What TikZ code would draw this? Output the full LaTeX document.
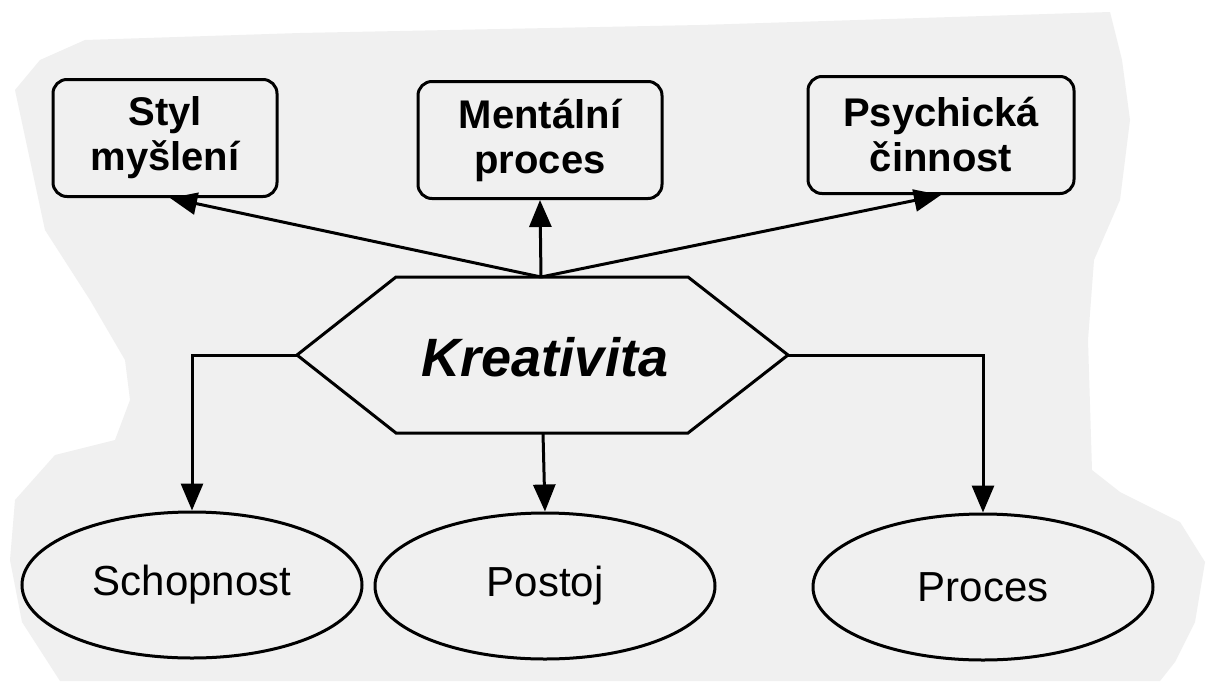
\documentclass[tikz,border=0pt]{standalone}
\usepackage{fontspec}
\setmainfont{Liberation Sans}
\usetikzlibrary{arrows.meta,shapes.geometric,calc}
\definecolor{paper}{HTML}{F0F0F0}
\begin{document}
\begin{tikzpicture}[x=1pt,y=-1pt,
  boxnode/.style={draw, line width=3pt, rounded corners=14pt, align=center,
    minimum height=117pt, inner sep=0pt,
    font=\fontsize{40}{45}\selectfont\bfseries},
  ellnode/.style={draw, ellipse, line width=3pt, minimum width=340pt,
    minimum height=146pt, inner sep=0pt, font=\fontsize{42}{48}\selectfont},
  hexline/.style={draw, line width=3pt, line join=miter},
  conn/.style={line width=3pt, -{Triangle[length=27pt,width=22pt]}}]
\useasboundingbox[fill=white] (0,0) rectangle (1211,681);
% scanned paper
\fill[paper] (85,40) -- (300,33) -- (700,25) -- (1110,12) -- (1122,60) -- (1130,120)
  -- (1120,200) -- (1094,260) -- (1088,340) -- (1092,470) -- (1120,492) -- (1180,522)
  -- (1205,562) -- (1195,622) -- (1175,662) -- (1160,681) -- (60,681) -- (22,622)
  -- (10,560) -- (15,500) -- (55,455) -- (115,440) -- (130,400) -- (125,360)
  -- (90,300) -- (45,230) -- (15,90) -- (40,60) -- cycle;
% top boxes
\node[boxnode, minimum width=224pt] (styl) at (165,138) {Styl\\myšlení};
\node[boxnode, minimum width=244pt] (ment) at (540,140) {Mentální\\proces};
\node[boxnode, minimum width=266pt] (psych) at (941,135) {Psychická\\činnost};
% hexagon
\coordinate (kL) at (297,355);
\coordinate (kTL) at (396,277);
\coordinate (kTR) at (688,277);
\coordinate (kR) at (788,355);
\coordinate (kBR) at (688,433);
\coordinate (kBL) at (396,433);
\coordinate (kTop) at (541,277);
\coordinate (kBot) at (543,433);
\draw[hexline] (kL) -- (kTL) -- (kTR) -- (kR) -- (kBR) -- (kBL) -- cycle;
\node[font=\fontsize{54}{60}\selectfont\bfseries\itshape] (krea) at (545,357) {Kreativita};
% ellipses
\node[ellnode] (schop) at (192,585) {Schopnost};
\node[ellnode] (postoj) at (545,586) {Postoj};
\node[ellnode] (proces) at (983,587) {Proces};
% connectors
\draw[conn] (kTop) -- ([xshift=5pt]styl.south);
\draw[conn] (kTop) -- (ment.south);
\draw[conn] (kTop) -- (psych.south);
\draw[conn] (kL) -| (schop.north);
\draw[conn] (kBot) -- (postoj.north);
\draw[conn] (kR) -| (proces.north);
\end{tikzpicture}
\end{document}
